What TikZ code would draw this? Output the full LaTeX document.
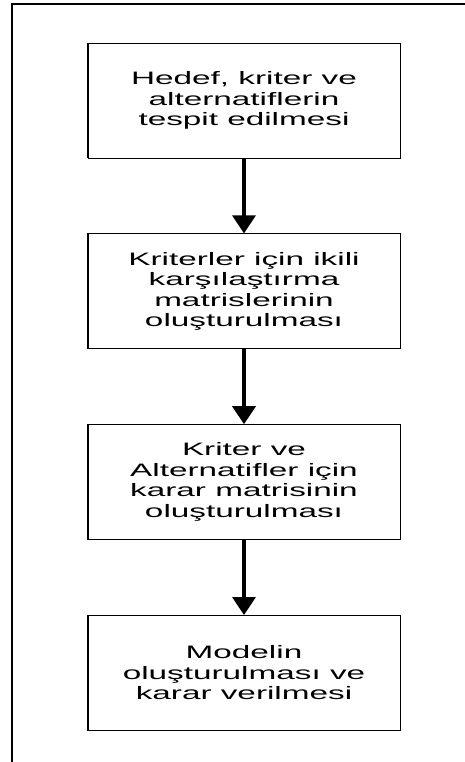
\documentclass[tikz,border=0pt]{standalone}
\usepackage{fontspec}
\usepackage{tikz}
\usetikzlibrary{positioning,arrows.meta}
\newfontfamily\boxfont[FakeStretch=1.85]{Liberation Sans}

\tikzset{
  stepbox/.style={draw, line width=0.8pt, minimum width=312pt, minimum height=115pt,
    inner sep=0pt, align=center, font=\boxfont\fontsize{18}{20.5}\selectfont,
    append after command={[line width=3pt] (\tikzlastnode.north west) edge (\tikzlastnode.south west)
      (\tikzlastnode.north east) edge (\tikzlastnode.south east)}},
  flowarrow/.style={line width=3.5pt, -{Triangle[width=23pt,length=18pt]}},
}

\begin{document}
\begin{tikzpicture}[x=1pt,y=-1pt]
\useasboundingbox (0,0) rectangle (465,762);
\draw[line width=1.5pt] (465,4) -- (12,4) -- (12,762);

\node[stepbox] (hedef) at (244,100.5) {Hedef, kriter ve\\alternatiflerin\\tespit edilmesi};
\node[stepbox, below=75pt of hedef] (ikili) {Kriterler için ikili\\karşılaştırma\\matrislerinin\\oluşturulması};
\node[stepbox, below=75pt of ikili] (karar) {Kriter ve\\Alternatifler için\\karar matrisinin\\oluşturulması};
\node[stepbox, below=75pt of karar] (model) {Modelin\\oluşturulması ve\\karar verilmesi};

\draw[flowarrow] (hedef) -- (ikili);
\draw[flowarrow] (ikili) -- (karar);
\draw[flowarrow] (karar) -- (model);
\end{tikzpicture}
\end{document}
